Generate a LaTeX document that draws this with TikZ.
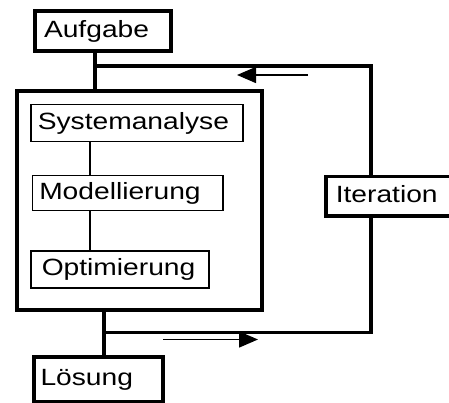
\documentclass[tikz,border=0pt]{standalone}
\usepackage{fontspec}
\usetikzlibrary{arrows.meta}
\newfontfamily\diafont[FakeStretch=1.2]{Liberation Sans}

\begin{document}
\begin{tikzpicture}[x=1pt, y=-1pt,
  line join=miter,
  % labelled rectangle: #1 = outer width, #2 = outer height
  boxbase/.style 2 args={anchor=north west, minimum width=#1, minimum height=#2,
    text width=#1-2*\pgfkeysvalueof{/pgf/inner xsep}, align=left,
    text height=17pt, text depth=4pt, inner ysep=0pt,
    font=\diafont\fontsize{23.5}{28}\selectfont},
  heavybox/.style={draw, line width=4pt},
  lightbox/.style={draw, line width=1.5pt},
  iterbox/.style={draw, line width=3.5pt},
  wire/.style={line width=3.5pt},
  thinwire/.style={line width=1.5pt},
  flow/.style={line width=1.5pt, -{Triangle[length=19pt, width=16pt]}}
]
\clip (0,0) rectangle (449,403);
\fill[white] (0,0) rectangle (449,403);

% task, container and result boxes
\node[heavybox, inner xsep=9pt, boxbase={136pt}{40pt}] (auf) at (33,9) {Aufgabe};
\node[heavybox, anchor=north west, minimum width=244.5pt, minimum height=219pt, inner sep=0pt] (main) at (15,89) {};
\node[heavybox, inner xsep=6.5pt, boxbase={129pt}{44.5pt}] (los) at (32,355) {Lösung};

% steps inside the container
\node[lightbox, inner xsep=7pt, boxbase={212pt}{37pt}] (sys) at (30,104) {Systemanalyse};
\node[lightbox, inner xsep=7pt, boxbase={190.5pt}{35pt}] (mod) at (31.5,175) {Modellierung};
\node[lightbox, inner xsep=11pt, boxbase={178pt}{37pt}] (opt) at (30,250) {Optimierung};

% iteration box on the feedback loop
\node[iterbox, inner xsep=10pt, boxbase={140pt}{39pt}] (iter) at (324,175) {Iteration};

% junctions of the loop
\coordinate (jtop) at (95,66);
\coordinate (jbot) at (104,332.5);
\coordinate (rail) at (371,0);
\coordinate (stem) at (90,0);

\draw[wire] (auf.south -| jtop) -- (main.north -| jtop);
\draw[wire] (jtop) -- (jtop -| rail) -- (iter.north -| rail);
\draw[wire] (iter.south -| rail) -- (jbot -| rail) -- (jbot);
\draw[wire] (main.south -| jbot) -- (los.north -| jbot);

\draw[thinwire] (sys.south -| stem) -- (mod.north -| stem);
\draw[thinwire] (mod.south -| stem) -- (opt.north -| stem);

% direction arrows
\coordinate (backfrom) at (308,75);
\coordinate (backto) at (237,75);
\coordinate (fwdfrom) at (163,339.5);
\coordinate (fwdto) at (258,339.5);
\draw[flow] (backfrom) -- (backto);
\draw[flow] (fwdfrom) -- (fwdto);
\end{tikzpicture}
\end{document}
